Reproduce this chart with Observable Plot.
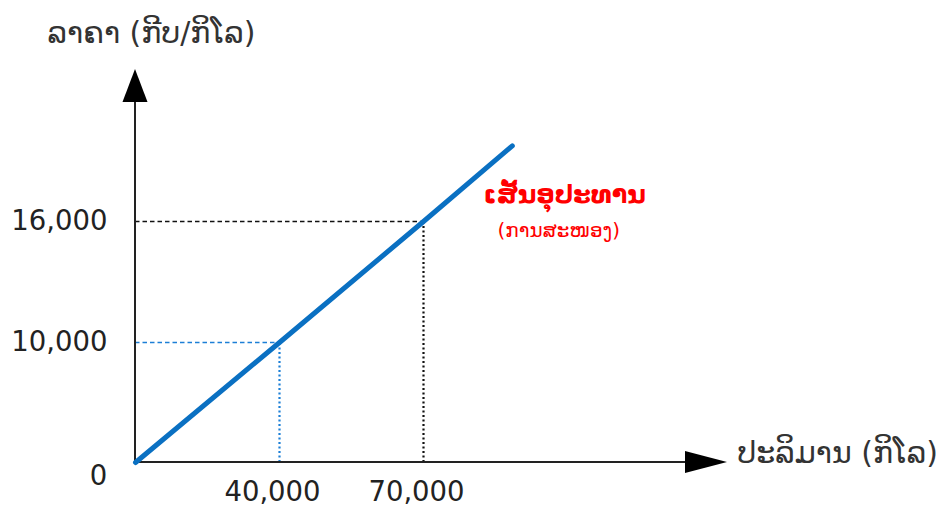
<!DOCTYPE html>
<html><head><meta charset="utf-8">
<script src="https://cdn.jsdelivr.net/npm/d3@7"></script>
<script src="https://cdn.jsdelivr.net/npm/@observablehq/plot@0.6"></script>
<style>body{margin:0;background:#fff} svg{display:block}</style>
</head><body><div id="chart"></div>
<script>
// Data
const tickQuantities = [0, 40000, 70000];
const tickPrices = [0, 10000, 16000];
const supplyQ = [0, 40000, 70000, 88500];
const supplyP = [0, 10000, 16000, 19750];
const guideQ = [40000, 70000];
const guideP = [10000, 16000];
const xTickLabels = ["40,000", "70,000"];
const yTickLabels = ["10,000", "16,000"];
const yTitle = "ລາຄາ (ກີບ/ກິໂລ)";
const xTitle = "ປະລິມານ (ກິໂລ)";
const curveTitle = "ເສັ້ນອຸປະທານ";
const curveSub = "(ການສະໜອງ)";

const supply = supplyQ.map((q, i) => ({q, p: supplyP[i]}));
const guides = guideQ.map((q, i) => ({q, p: guideP[i], color: i === 0 ? "#1c7fd6" : "#111"}));
const xt = xTickLabels.map((t, i) => ({q: guideQ[i], t}));
const yt = yTickLabels.map((t, i) => ({p: guideP[i], t}));

const FONT = "DejaVu Sans";

// schematic (non-proportional) axes: piecewise-linear mapping of the tick values
const W = 946, H = 507, ML = 135, MT = 69, MR = 219, MB = 45;
const xPiece = d3.scaleLinear().domain(tickQuantities).range([ML, 279, 423]);
const yPiece = d3.scaleLinear().domain(tickPrices).range([H - MB, 342, 221]);

const axesMark = (index, scales, values, dims) => {
  const {width, height, marginLeft: L, marginTop: T, marginRight: R, marginBottom: B} = dims;
  const x0 = L, y0 = height - B, xe = width - R, ye = T;
  const g = d3.create("svg:g");
  g.append("line").attr("x1", x0).attr("y1", y0 + 1).attr("x2", x0).attr("y2", ye + 30)
    .attr("stroke", "#222").attr("stroke-width", 2);
  g.append("line").attr("x1", x0 - 1).attr("y1", y0).attr("x2", xe - 40).attr("y2", y0)
    .attr("stroke", "#222").attr("stroke-width", 2);
  g.append("path").attr("d", `M${x0},${ye}L${x0 - 12.5},${ye + 33}L${x0 + 12.5},${ye + 33}Z`).attr("fill", "#000");
  g.append("path").attr("d", `M${xe},${y0}L${xe - 42},${y0 - 11}L${xe - 42},${y0 + 11}Z`).attr("fill", "#000");
  return g.node();
};

const chart = Plot.plot({
  width: W,
  height: H,
  marginLeft: ML,
  marginTop: MT,
  marginRight: MR,
  marginBottom: MB,
  style: {fontFamily: FONT, background: "white"},
  x: {transform: xPiece, domain: [ML, W - MR], range: [ML, W - MR], axis: null},
  y: {transform: yPiece, domain: [H - MB, MT], range: [H - MB, MT], axis: null},
  marks: [
    Plot.ruleY(guides, {y: "p", x1: 0, x2: "q", stroke: "color", strokeWidth: 1.6, strokeDasharray: "4.5,3"}),
    Plot.ruleX(guides, {x: "q", y1: 0, y2: "p", stroke: "color", strokeWidth: 2.2, strokeDasharray: "2,2.5"}),
    axesMark,
    Plot.line(supply, {x: "q", y: "p", stroke: "#0a70c2", strokeWidth: 5, strokeLinecap: "round"}),
    Plot.text(yt, {x: 0, y: "p", text: "t", textAnchor: "end", dx: -28, fontSize: 27.5, fill: "#222"}),
    Plot.text(["0"], {x: 0, y: 0, text: d => d, dx: -37, dy: 14, fontSize: 27.5, fill: "#222"}),
    Plot.text(xt, {x: "q", y: 0, text: "t", dx: -7, dy: 30, fontSize: 27.5, fill: "#222"}),
    Plot.text([yTitle], {frameAnchor: "top-left", text: d => d, dx: 16, dy: -48, textAnchor: "middle", fontSize: 30, fill: "#333"}),
    Plot.text([xTitle], {frameAnchor: "bottom-right", text: d => d, dx: 10, dy: 0, textAnchor: "start", fontSize: 30, fill: "#333"}),
    Plot.text([curveTitle], {x: 70000, y: 16000, text: d => d, dx: 60, dy: -27, textAnchor: "start", fontSize: 25.5, fontWeight: "bold", fill: "#ff0000"}),
    Plot.text([curveSub], {x: 70000, y: 16000, text: d => d, dx: 74, dy: 9, textAnchor: "start", fontSize: 20, fill: "#ff0000"})
  ]
});
document.getElementById("chart").append(chart);
</script>
</body></html>
